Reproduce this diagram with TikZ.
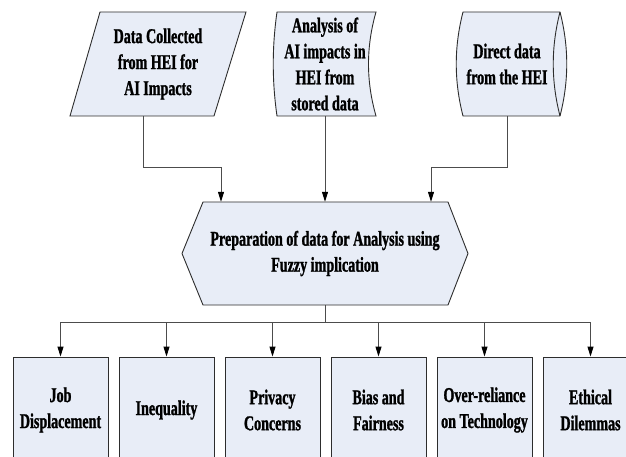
\documentclass[tikz,border=0pt]{standalone}
\usepackage{fontspec}
\setmainfont{Liberation Serif}[FakeStretch=0.67, BoldFeatures={FakeBold=1.2}]
\usepackage{xcolor}
\usetikzlibrary{arrows.meta}
\definecolor{boxfill}{RGB}{232,237,247}
\definecolor{boxline}{RGB}{45,45,45}
\tikzset{
    box-text/.style = {font=\bfseries\fontsize{21}{26}\selectfont, align=center, inner sep=0pt},
    box-shape/.style = {draw=boxline, fill=boxfill, line width=0.9pt},
    impact-box/.style = {box-text, box-shape, rectangle, minimum width=95pt, minimum height=106pt},
    flow-line/.style = {draw=black!70, line width=0.9pt, -{Triangle[length=10pt,width=6pt,color=black]}},
}

\begin{document}
\begin{tikzpicture}[x=1pt, y=-1pt]
\useasboundingbox (0,0) rectangle (626,457);
\clip (0,0) rectangle (626,457);

% input shapes
\draw[box-shape] (100,12) -- (246,12) -- (214,116) -- (70,116) -- cycle;
\draw[box-shape] (277,12) -- (376,12) .. controls (366,47) and (366,81) .. (376,116)
    -- (277,116) .. controls (272,81) and (272,47) .. (277,12) -- cycle;
\draw[box-shape] (463,12) -- (560,12) .. controls (569,47) and (569,81) .. (560,116)
    -- (463,116) .. controls (454,81) and (454,47) .. (463,12) -- cycle;
\draw[boxline, line width=0.9pt] (560,12) .. controls (551,47) and (551,81) .. (560,116);
\draw[box-shape] (203,202) -- (448,202) -- (468,253.5) -- (448,305) -- (203,305) -- (182,253.5) -- cycle;

\node[box-text, minimum width=144pt, minimum height=104pt] (collect) at (158,64) {Data Collected\\from HEI for\\AI Impacts};
\node[box-text, minimum width=99pt, minimum height=104pt] (store) at (325,64) {Analysis of\\AI impacts in\\HEI from\\stored data};
\node[box-text, minimum width=97pt, minimum height=104pt] (direct) at (507,64) {Direct data\\from the HEI};
\node[box-text, minimum width=245pt, minimum height=103pt] (prep) at (325,253.5) {Preparation of data for Analysis using\\Fuzzy implication};

% impacts
\node[impact-box] (job) at (60.5,410) {Job\\Displacement};
\node[impact-box] (inequality) at (166.5,410) {Inequality};
\node[impact-box] (privacy) at (272.5,410) {Privacy\\Concerns};
\node[impact-box] (bias) at (378.5,410) {Bias and\\Fairness};
\node[impact-box] (reliance) at (484.5,410) {Over-reliance\\on Technology};
\node[impact-box] (ethics) at (590.5,410) {Ethical\\Dilemmas};

% connectors
\draw[flow-line] ([xshift=-15pt]collect.south) -- ++(0,51) -| ([xshift=-104pt]prep.north);
\draw[flow-line] (store.south) -- (prep.north);
\draw[flow-line] (direct.south) -- ++(0,51) -| ([xshift=106pt]prep.north);
\draw[draw=black!70, line width=0.9pt] (prep.south) -- ++(0,17) coordinate (split);
\foreach \target in {job,inequality,privacy,bias,reliance,ethics}
    \draw[flow-line] (split) -| (\target.north);
\end{tikzpicture}
\end{document}
